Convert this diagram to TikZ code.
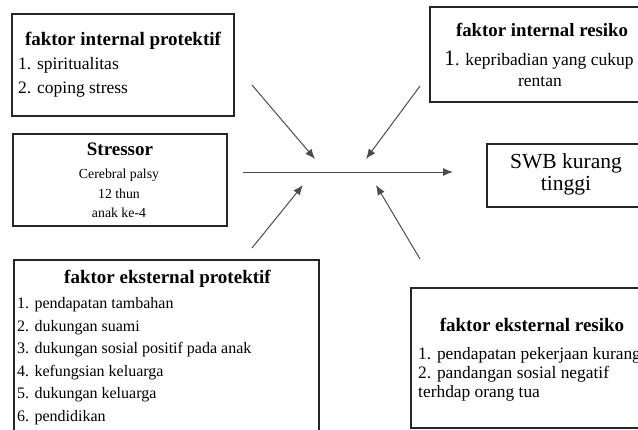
\documentclass[tikz,border=0pt]{standalone}
\usepackage{fontspec}
\setmainfont{Liberation Serif}
\usetikzlibrary{arrows.meta}
\begin{document}
\begin{tikzpicture}[x=1pt,y=-1pt,
  box/.style={draw=black!85, line width=1.6pt, inner sep=0pt},
  conn/.style={draw=black!70, line width=1pt, -{Latex[length=10pt,width=8pt]}},
  ttl/.style={anchor=base, inner sep=0pt, font=\fontsize{19}{22}\selectfont\bfseries},
  itm/.style={anchor=base west, inner sep=0pt},
  ctr/.style={anchor=base, inner sep=0pt}]
\useasboundingbox (0,0) rectangle (638,429);
\clip (0,0) rectangle (638,429);
% boxes
\node[box, minimum width=222pt, minimum height=102pt] (b1) at (123,65) {};
\node[box, minimum width=215pt, minimum height=95pt] (b2) at (537.5,54.5) {};
\node[box, minimum width=214pt, minimum height=92pt] (b3) at (120,180) {};
\node[box, minimum width=158pt, minimum height=63pt] (b4) at (566,175.5) {};
\node[box, minimum width=305pt, minimum height=180pt] (b5) at (166.5,350) {};
\node[box, minimum width=234pt, minimum height=140pt] (b6) at (528,358) {};
% box 1
\node[ttl] (t1) at (123,45) {faktor internal protektif};
\begin{scope}[every node/.style={itm, font=\fontsize{17.5}{20}\selectfont}]
\node (t1a) at (18,69.5) {1. spiritualitas};
\node (t1b) at (18,93) {2. coping stress};
\end{scope}
% box 2
\node[ttl, font=\fontsize{18.8}{22}\selectfont\bfseries] (t2) at (542,36) {faktor internal resiko};
\node[itm, font=\fontsize{17.5}{20}\selectfont] (t2a) at (444,65) {{\fontsize{22}{22}\selectfont 1}. kepribadian yang cukup};
\node[ctr, font=\fontsize{17.5}{20}\selectfont] (t2b) at (540,86) {rentan};
% stressor
\node[ttl] (t3) at (120,155) {Stressor};
\begin{scope}[every node/.style={ctr, font=\fontsize{13.8}{16}\selectfont}]
\node (t3a) at (119,178) {Cerebral palsy};
\node (t3b) at (119,198) {12 thun};
\node (t3c) at (119,217) {anak ke-4};
\end{scope}
% SWB
\begin{scope}[every node/.style={ctr, font=\fontsize{21.5}{23}\selectfont}]
\node (t4a) at (566,168.5) {SWB kurang};
\node (t4b) at (566,190.5) {tinggi};
\end{scope}
% bottom left
\node[ttl] (t5) at (167.5,283) {faktor eksternal protektif};
\begin{scope}[every node/.style={itm, font=\fontsize{16}{18}\selectfont}]
\node (t5a) at (17,308.5) {1. pendapatan tambahan};
\node (t5b) at (17,331) {2. dukungan suami};
\node (t5c) at (17,353.5) {3. dukungan sosial positif pada anak};
\node (t5d) at (17,376) {4. kefungsian keluarga};
\node (t5e) at (17,398.5) {5. dukungan keluarga};
\node (t5f) at (17,421) {6. pendidikan};
\end{scope}
% bottom right
\node[ttl] (t6) at (532,331) {faktor eksternal resiko};
\begin{scope}[every node/.style={itm, font=\fontsize{17.4}{19}\selectfont}]
\node (t6a) at (418,359) {1. pendapatan pekerjaan kurang};
\node (t6b) at (418,378) {2. pandangan sosial negatif};
\node (t6c) at (418,397) {terhdap orang tua};
\end{scope}
% connectors
\coordinate (m0) at (243,172);
\coordinate (m1) at (453,172);
\coordinate (a1s) at (252,85);  \coordinate (a1e) at (315,159);
\coordinate (a2s) at (252,248); \coordinate (a2e) at (303,185);
\coordinate (a3s) at (420,86);  \coordinate (a3e) at (366,159);
\coordinate (a4s) at (420,259); \coordinate (a4e) at (376,185);
\draw[conn] (m0) -- (m1);
\draw[conn] (a1s) -- (a1e);
\draw[conn] (a2s) -- (a2e);
\draw[conn] (a3s) -- (a3e);
\draw[conn] (a4s) -- (a4e);
\end{tikzpicture}
\end{document}
